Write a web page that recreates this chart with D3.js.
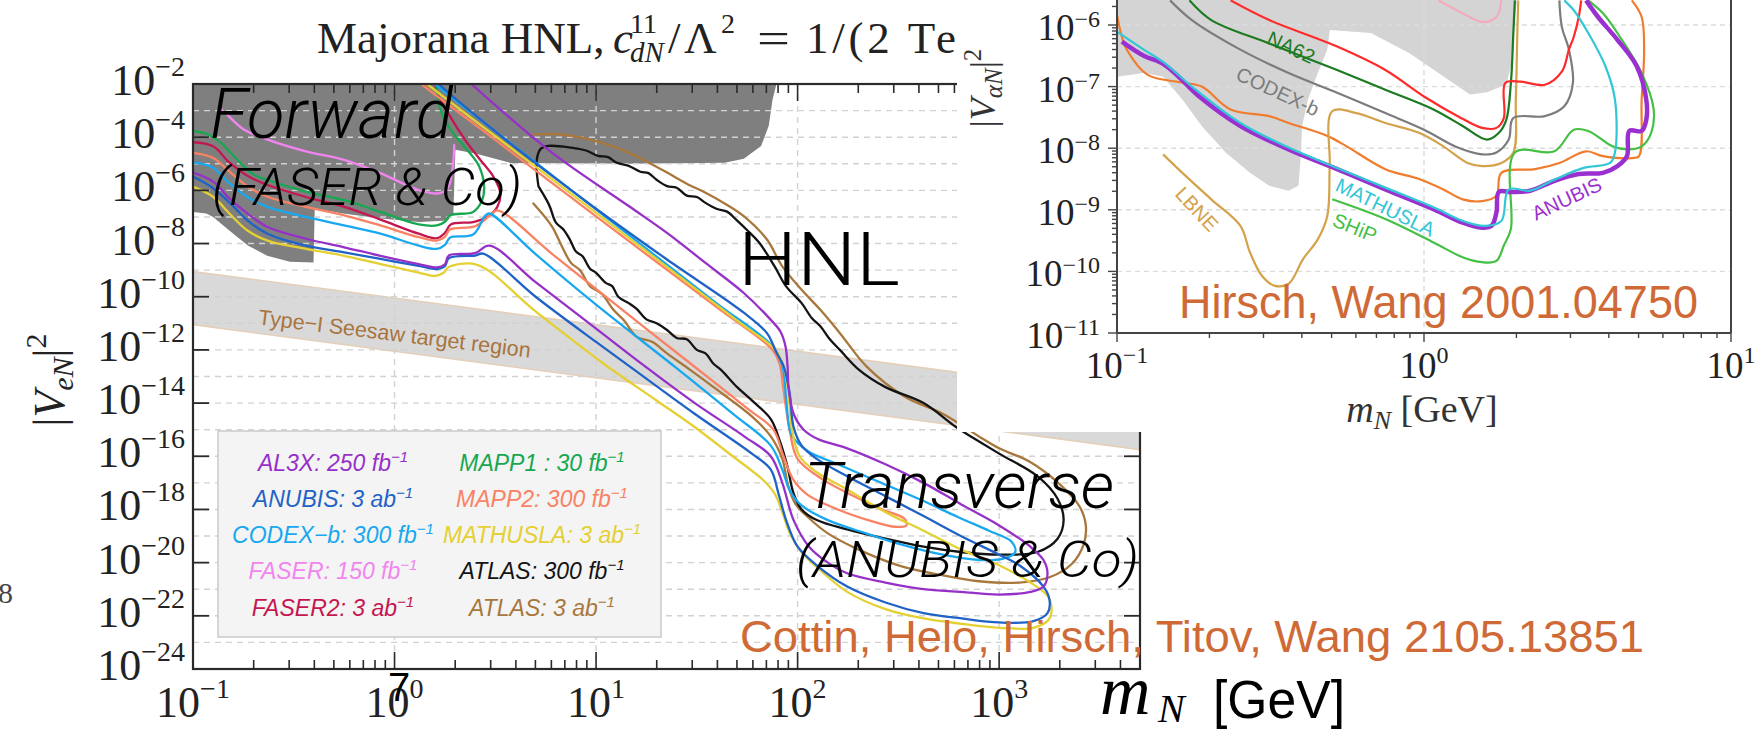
<!DOCTYPE html>
<html>
<head>
<meta charset="utf-8">
<script src="https://d3js.org/d3.v7.min.js"></script>
<style>
html,body{margin:0;padding:0;background:#fff;}
svg{display:block;}
</style>
</head>
<body>
<svg id="chart" width="1756" height="732" xmlns="http://www.w3.org/2000/svg"></svg>
<script>
// ================= DATA =================
// every point is [log10(m_N / GeV), log10(|V|^2)]

// ---- main chart (Cottin, Helo, Hirsch, Titov, Wang) ----
const massTickExpMain = [-1, 0, 1, 2, 3];
const couplingTickExpMain = [-2,-4,-6,-8,-10,-12,-14,-16,-18,-20,-22,-24];

const excludedMain = [[-1,-1.9],[1.9,-1.9],[1.895,-2.0],[1.876,-2.57],[1.857,-3.57],[1.819,-4.33],[1.733,-4.81],[1.638,-4.96],[1.162,-5.0],[0.575,-4.97],[0.406,-4.62],[0.302,-4.47],[0.292,-6.87],[0.264,-7.13],[0.123,-7.19],[-0.066,-7.06],[-0.255,-6.87],[-0.396,-6.68],[-0.402,-8.71],[-0.519,-8.68],[-0.632,-8.46],[-0.726,-8.08],[-0.82,-7.51],[-0.9,-7.0],[-0.934,-6.87],[-1,-6.81]];
const seesawUpper = [[-1,-9.05],[3.7,-13.75]];
const seesawLower = [[-1,-11.05],[3.7,-15.75]];
const seesawLabelAt = [0.0,-11.4];

const al3x = [[-1,-5.33],[-0.9,-5.67],[-0.82,-6.3],[-0.73,-6.87],[-0.63,-7.38],[-0.44,-7.82],[-0.25,-8.14],[-0.07,-8.46],[0.12,-8.77],[0.21,-8.9],[0.25,-8.78],[0.27,-8.45],[0.4,-8.36],[0.47,-8.08],[0.7,-9.45],[1.0,-11.2],[1.24,-12.6],[1.49,-14.0],[1.735,-15.25],[1.867,-16.0],[1.924,-17.0],[1.98,-18.4],[2.057,-19.4],[2.15,-20.0],[2.246,-20.4],[2.436,-20.75],[2.625,-21.0],[2.81,-21.1],[3.0,-21.2],[3.155,-21.1],[3.22,-20.9],[3.24,-20.4],[3.22,-19.9],[3.155,-19.4],[3.0,-18.6],[2.81,-17.8],[2.625,-17.0],[2.436,-16.3],[2.246,-15.7],[2.1,-15.35],[2.03,-15.0],[1.98,-14.4],[1.955,-13.4],[1.95,-12.6],[1.94,-11.87],[1.914,-11.3],[1.867,-10.87],[1.733,-9.86],[1.543,-8.73],[1.352,-7.6],[1.162,-6.59],[0.781,-4.58],[0.381,-2.0],[0.36,-1.85]];
const anubis = [[-1,-5.48],[-0.9,-5.92],[-0.8,-6.6],[-0.73,-7.13],[-0.63,-7.63],[-0.44,-8.08],[-0.25,-8.33],[-0.07,-8.58],[0.12,-8.84],[0.21,-8.96],[0.25,-8.85],[0.27,-8.55],[0.4,-8.45],[0.44,-8.38],[0.7,-10.0],[1.0,-11.7],[1.163,-12.6],[1.489,-14.4],[1.773,-15.9],[1.867,-16.5],[1.905,-17.4],[1.943,-18.4],[2.0,-19.4],[2.095,-20.1],[2.246,-20.9],[2.436,-21.5],[2.625,-21.9],[2.814,-22.1],[3.0,-22.25],[3.17,-22.2],[3.24,-21.9],[3.25,-21.4],[3.22,-20.9],[3.1,-20.1],[3.0,-19.7],[2.81,-19.0],[2.625,-18.25],[2.436,-17.5],[2.246,-16.75],[2.095,-16.1],[2.02,-15.6],[1.98,-14.9],[1.96,-13.6],[1.93,-12.6],[1.895,-12.1],[1.848,-11.37],[1.733,-10.6],[1.352,-8.6],[0.971,-6.53],[0.59,-4.33],[0.219,-2.0],[0.2,-1.85]];
const codexb = [[-1,-4.95],[-0.9,-5.15],[-0.82,-5.73],[-0.73,-6.25],[-0.63,-6.62],[-0.44,-7.0],[-0.25,-7.32],[-0.07,-7.63],[0.12,-8.08],[0.21,-8.2],[0.25,-8.05],[0.275,-7.78],[0.39,-7.66],[0.45,-6.95],[0.47,-6.87],[0.7,-8.4],[1.0,-10.3],[1.39,-12.63],[1.678,-14.4],[1.867,-15.6],[1.924,-16.5],[1.962,-17.3],[2.02,-17.85],[2.15,-18.4],[2.34,-18.9],[2.53,-19.35],[2.72,-19.7],[2.9,-19.9],[3.02,-19.85],[3.08,-19.6],[3.06,-19.2],[2.95,-18.8],[2.8,-18.3],[2.6,-17.6],[2.4,-16.95],[2.2,-16.3],[2.05,-15.8],[1.97,-15.2],[1.945,-14.0],[1.925,-12.63],[1.88,-11.9],[1.6,-10.26],[1.2,-7.9],[0.8,-5.54],[0.2,-2.0],[0.18,-1.85]];
const faser = [[-0.86,-2.95],[-0.84,-3.08],[-0.75,-3.7],[-0.63,-4.09],[-0.44,-4.53],[-0.25,-4.85],[-0.07,-5.35],[0.12,-5.99],[0.22,-6.11],[0.264,-5.92],[0.289,-5.1],[0.296,-4.3]];
const faser2 = [[-1,-4.19],[-0.9,-4.34],[-0.82,-4.95],[-0.73,-5.45],[-0.63,-5.8],[-0.44,-6.25],[-0.25,-6.62],[-0.07,-7.1],[0.12,-7.63],[0.21,-7.8],[0.25,-7.6],[0.279,-7.28],[0.39,-7.19],[0.46,-7.0],[0.51,-6.62],[0.525,-6.11],[0.49,-5.48],[0.425,-4.85],[0.349,-4.09],[0.274,-3.2],[0.217,-2.44],[0.198,-1.85]];
const mapp1 = [[-1,-3.77],[-0.93,-3.88],[-0.86,-4.22],[-0.78,-4.85],[-0.7,-5.4],[-0.63,-5.61],[-0.44,-6.05],[-0.25,-6.37],[-0.07,-6.81],[0.12,-7.28],[0.21,-7.32],[0.25,-7.18],[0.275,-6.94],[0.39,-6.81],[0.43,-6.45],[0.445,-5.9],[0.42,-5.1],[0.36,-4.47],[0.29,-3.84],[0.236,-3.14],[0.215,-2.57],[0.208,-1.85]];
const mapp2 = [[-1,-4.59],[-0.9,-4.78],[-0.82,-5.29],[-0.73,-5.85],[-0.63,-6.24],[-0.44,-6.62],[-0.25,-6.94],[-0.07,-7.32],[0.12,-7.76],[0.21,-7.89],[0.25,-7.75],[0.275,-7.47],[0.4,-7.35],[0.48,-6.9],[0.51,-6.75],[0.8,-8.5],[1.24,-11.15],[1.5,-12.7],[1.75,-14.2],[1.88,-15.0],[1.93,-16.0],[1.98,-16.9],[2.05,-17.45],[2.2,-18.0],[2.35,-18.4],[2.48,-18.65],[2.54,-18.6],[2.53,-18.35],[2.42,-18.0],[2.28,-17.5],[2.12,-16.85],[2.0,-16.1],[1.96,-15.0],[1.93,-13.5],[1.91,-12.5],[1.876,-12.0],[1.6,-10.4],[1.0,-6.98],[0.5,-4.1],[0.133,-2.0],[0.11,-1.85]];
const mathusla = [[-1,-5.86],[-0.9,-6.24],[-0.82,-6.87],[-0.73,-7.51],[-0.63,-7.89],[-0.44,-8.2],[-0.25,-8.46],[-0.07,-8.77],[0.12,-9.09],[0.2,-9.22],[0.245,-9.09],[0.265,-8.9],[0.41,-8.8],[0.7,-10.55],[1.034,-12.5],[1.3,-13.9],[1.489,-14.9],[1.678,-16.0],[1.83,-16.9],[1.886,-17.4],[1.924,-18.1],[1.962,-18.9],[2.02,-19.6],[2.13,-20.4],[2.246,-21.1],[2.436,-21.75],[2.625,-22.1],[2.814,-22.3],[3.0,-22.45],[3.17,-22.45],[3.246,-22.15],[3.26,-21.7],[3.24,-21.25],[3.155,-20.75],[3.0,-20.1],[2.81,-19.5],[2.625,-18.8],[2.436,-18.1],[2.246,-17.25],[2.095,-16.6],[2.01,-16.0],[1.97,-14.9],[1.955,-13.6],[1.93,-12.6],[1.89,-12.0],[1.7,-10.9],[1.2,-8.0],[0.7,-5.11],[0.162,-2.0],[0.14,-1.85]];
const atlas300 = [[0.714,-5.84],[0.705,-4.9],[0.724,-4.45],[0.762,-4.33],[0.876,-4.39],[0.95,-4.5],[1.01,-4.7],[1.06,-4.75],[1.1,-4.95],[1.162,-5.08],[1.22,-5.3],[1.26,-5.35],[1.3,-5.6],[1.352,-5.84],[1.4,-5.9],[1.45,-6.2],[1.5,-6.25],[1.543,-6.47],[1.6,-6.7],[1.65,-6.8],[1.695,-7.1],[1.75,-7.5],[1.81,-7.97],[1.886,-8.86],[1.943,-9.61],[2.02,-10.24],[2.07,-10.8],[2.114,-11.12],[2.16,-11.6],[2.21,-12.0],[2.305,-12.75],[2.436,-13.4],[2.625,-14.0],[2.786,-14.9],[2.87,-15.3],[3.0,-15.9],[3.19,-16.75],[3.29,-17.6],[3.32,-18.4],[3.29,-19.1],[3.19,-19.6],[3.0,-19.7],[2.81,-19.6],[2.625,-19.4],[2.436,-19.1],[2.246,-18.75],[2.095,-18.4],[2.02,-18.0],[1.98,-17.4],[1.95,-16.4],[1.915,-15.5],[1.867,-14.6],[1.773,-13.9],[1.7,-13.4],[1.62,-12.75],[1.58,-12.5],[1.543,-12.13],[1.5,-12.0],[1.45,-11.6],[1.4,-11.55],[1.352,-11.25],[1.3,-11.0],[1.25,-10.85],[1.2,-10.45],[1.162,-10.24],[1.11,-10.0],[1.08,-9.6],[1.048,-9.48],[1.0,-9.1],[0.97,-8.95],[0.933,-8.48],[0.9,-8.3],[0.87,-7.85],[0.838,-7.47],[0.8,-7.2],[0.775,-6.7],[0.762,-6.47],[0.714,-5.84]];
const atlas3000 = [[0.689,-6.49],[0.781,-7.35],[0.83,-8.1],[0.876,-8.73],[0.92,-9.0],[0.971,-9.61],[1.03,-9.9],[1.086,-10.49],[1.14,-10.9],[1.2,-11.5],[1.28,-11.7],[1.352,-12.13],[1.467,-12.75],[1.583,-13.4],[1.773,-14.5],[1.867,-15.25],[1.924,-16.1],[1.953,-17.1],[1.99,-17.8],[2.06,-18.35],[2.15,-18.9],[2.3,-19.5],[2.5,-20.1],[2.7,-20.45],[2.9,-20.7],[3.1,-20.75],[3.25,-20.55],[3.36,-20.05],[3.42,-19.3],[3.43,-18.6],[3.4,-17.9],[3.3,-17.05],[3.15,-16.2],[3.0,-15.7],[2.91,-15.3],[2.72,-14.4],[2.53,-13.75],[2.343,-12.63],[2.21,-11.37],[2.114,-10.5],[2.02,-9.74],[1.924,-8.86],[1.848,-7.85],[1.733,-6.97],[1.64,-6.5],[1.543,-6.09],[1.45,-5.75],[1.352,-5.33],[1.26,-4.95],[1.162,-4.58],[1.0,-4.15],[0.819,-3.89],[0.689,-3.9]];

const legendNames = ["AL3X: 250 fb","ANUBIS: 3 ab","CODEX\u2212b: 300 fb","FASER: 150 fb","FASER2: 3 ab","MAPP1 : 30 fb","MAPP2: 300 fb","MATHUSLA: 3 ab","ATLAS: 300 fb","ATLAS: 3 ab"];
const legendColors = ["#9630c8","#1f63c6","#18a8f0","#f284f0","#c4164f","#16a851","#fa8264","#e4d032","#141414","#a8773c"];

// ---- inset chart (Hirsch, Wang 2001.04750) ----
const massTickExpSide = [-1, 0, 1];
const couplingTickExpSide = [-6,-7,-8,-9,-10,-11];
const excludedSide = [[-1,-5.4],[-1,-6.84],[-0.913,-6.78],[-0.85,-6.84],[-0.787,-7.21],[-0.724,-7.64],[-0.646,-8.07],[-0.567,-8.4],[-0.504,-8.61],[-0.441,-8.69],[-0.409,-8.61],[-0.402,-8.18],[-0.397,-7.64],[-0.378,-7.21],[-0.346,-6.78],[-0.315,-6.4],[-0.307,-6.08],[-0.173,-6.13],[-0.047,-6.46],[0.079,-6.89],[0.15,-7.13],[0.205,-7.09],[0.268,-6.97],[0.283,-6.67],[0.291,-6.13],[0.307,-5.4]];
const sidePink = [[0.047,-5.6],[0.126,-5.81],[0.189,-5.95],[0.236,-5.87],[0.252,-5.6]];
const sideRed = [[-0.63,-5.6],[-0.504,-5.92],[-0.283,-6.35],[-0.126,-6.73],[0,-7.16],[0.11,-7.48],[0.189,-7.67],[0.236,-7.67],[0.26,-7.51],[0.265,-6.94],[0.315,-6.92],[0.394,-6.97],[0.45,-6.75],[0.472,-6.4],[0.488,-6.19],[0.504,-5.87],[0.512,-5.6]];
const sideNA62 = [[-0.764,-5.6],[-0.693,-5.92],[-0.504,-6.3],[-0.283,-6.73],[-0.126,-7.05],[0.031,-7.37],[0.126,-7.64],[0.205,-7.86],[0.244,-7.75],[0.268,-7.54],[0.283,-6.94],[0.291,-6.13],[0.296,-5.6]];
const sideCodexb = [[-0.827,-5.6],[-0.756,-5.92],[-0.598,-6.4],[-0.441,-6.78],[-0.283,-7.1],[-0.126,-7.43],[0,-7.7],[0.11,-7.99],[0.189,-8.1],[0.236,-8.07],[0.276,-7.86],[0.291,-7.51],[0.394,-7.48],[0.457,-7.32],[0.485,-6.94],[0.472,-6.4],[0.449,-6.03],[0.441,-5.6]];
const sideLBNE = [[-0.85,-8.1],[-0.787,-8.4],[-0.693,-8.83],[-0.598,-9.26],[-0.567,-9.69],[-0.528,-10.07],[-0.488,-10.23],[-0.441,-10.2],[-0.394,-9.8],[-0.346,-9.48],[-0.315,-9.1],[-0.307,-8.29],[-0.299,-7.4],[-0.22,-7.43],[-0.126,-7.59],[-0.016,-7.75],[0.063,-7.97],[0.142,-8.24],[0.189,-8.29],[0.252,-8.24],[0.291,-8.07],[0.299,-7.21],[0.304,-6.13],[0.307,-5.6]];
const sideOrange = [[-1,-5.84],[-0.984,-6.19],[-0.967,-6.41],[-0.9,-6.81],[-0.795,-6.93],[-0.724,-7.0],[-0.63,-7.37],[-0.504,-7.48],[-0.441,-7.59],[-0.315,-7.8],[-0.252,-7.97],[-0.126,-8.34],[-0.016,-8.5],[0.063,-8.67],[0.126,-8.83],[0.189,-8.86],[0.236,-8.77],[0.252,-8.4],[0.362,-8.34],[0.441,-8.24],[0.528,-8.05],[0.583,-8.13],[0.677,-8.16],[0.7,-8.13],[0.709,-7.21],[0.717,-6.4],[0.709,-5.87],[0.677,-5.6]];
const sideSHiP = [[-0.299,-8.83],[-0.126,-9.15],[0.031,-9.53],[0.126,-9.77],[0.189,-9.85],[0.236,-9.83],[0.26,-9.58],[0.283,-9.31],[0.296,-8.07],[0.425,-8.05],[0.488,-7.7],[0.535,-7.72],[0.614,-7.97],[0.661,-8.02],[0.709,-7.97],[0.74,-7.75],[0.748,-7.37],[0.709,-6.78],[0.63,-6.13],[0.583,-5.81],[0.535,-5.6]];
const sideANUBIS = [[-0.984,-6.27],[-0.913,-6.5],[-0.85,-6.63],[-0.795,-6.86],[-0.73,-7.17],[-0.598,-7.64],[-0.441,-8.02],[-0.283,-8.34],[-0.126,-8.67],[0.031,-8.99],[0.126,-9.21],[0.189,-9.29],[0.22,-9.26],[0.236,-9.04],[0.244,-8.71],[0.283,-8.71],[0.346,-8.69],[0.425,-8.53],[0.504,-8.42],[0.583,-8.4],[0.63,-8.29],[0.661,-8.13],[0.669,-7.72],[0.709,-7.72],[0.724,-7.54],[0.724,-7.21],[0.693,-6.67],[0.63,-6.24],[0.567,-5.87],[0.528,-5.6]];
const sideMATHUSLA = [[-1,-6.11],[-0.913,-6.4],[-0.85,-6.6],[-0.756,-7.0],[-0.598,-7.59],[-0.441,-7.99],[-0.283,-8.32],[-0.126,-8.64],[0.031,-8.96],[0.126,-9.18],[0.197,-9.26],[0.252,-9.18],[0.276,-8.67],[0.346,-8.69],[0.425,-8.51],[0.52,-8.32],[0.606,-8.24],[0.622,-8.07],[0.622,-7.21],[0.591,-6.67],[0.535,-6.13],[0.488,-5.76],[0.457,-5.6]];
const sideLabelText = ["NA62","CODEX-b","LBNE","MATHUSLA","SHiP","ANUBIS"];
const sideLabelAt = [[-0.433,-6.36],[-0.476,-7.08],[-0.74,-8.99],[-0.126,-8.96],[-0.225,-9.29],[0.465,-8.82]];
const sideLabelAngle = [25,25,47,26,22,-25];
const sideLabelColor = ["#1b7a22","#7c7c7c","#d4a24a","#33c6d6","#45c045","#9a30d0"];

// ================= DRAWING =================
const SERIF = "'Liberation Serif','DejaVu Serif',serif";
const SANS = "'Liberation Sans',Arimo,Arial,sans-serif";
const LIGHT = "Roboto,Lato,'Open Sans','Liberation Sans',sans-serif";
const ORANGE = "#cf6a36";

const svg = d3.select("#chart");
const defs = svg.append("defs");

const xL = d3.scaleLog().domain([0.1, 5000]).range([193, 1140]);
const yL = d3.scaleLog().domain([1e-24, 1e-2]).range([669, 84]);
const xR = d3.scaleLog().domain([0.1, 10]).range([1117, 1731]);
const yR = d3.scaleLog().domain([1e-11, 1e-6]).range([333, 25]);

const toVals = arr => arr.map(([l, w]) => [Math.pow(10, l), Math.pow(10, w)]);
const smoothL = d3.line().x(d => xL(d[0])).y(d => yL(d[1])).curve(d3.curveCatmullRom.alpha(0.5));
const polyL = d3.line().x(d => xL(d[0])).y(d => yL(d[1]));
const smoothR = d3.line().x(d => xR(d[0])).y(d => yR(d[1])).curve(d3.curveCatmullRom.alpha(0.5));
const polyR = d3.line().x(d => xR(d[0])).y(d => yR(d[1]));
const isDecade = t => Math.abs(Math.log10(t) - Math.round(Math.log10(t))) < 1e-9;
const expText = e => (e < 0 ? "\u2212" + Math.abs(e) : String(e));

function addPow(sel, x, y, e, size, expSize, raise, anchor) {
  const t = sel.append("text").attr("x", x).attr("y", y)
    .attr("text-anchor", anchor).attr("font-family", SERIF)
    .attr("font-size", size).attr("fill", "#222");
  t.append("tspan").text("10");
  t.append("tspan").attr("dy", -raise).attr("font-size", expSize).text(expText(e));
  return t;
}

const [lx0, lx1] = xL.range();
const [ly1, ly0] = yL.range(); // ly1 = bottom, ly0 = top
defs.append("clipPath").attr("id", "clipL").append("rect")
  .attr("x", lx0).attr("y", ly0).attr("width", lx1 - lx0).attr("height", ly1 - ly0);
const [rx0, rx1] = xR.range();
defs.append("clipPath").attr("id", "clipR").append("rect")
  .attr("x", rx0).attr("y", -20).attr("width", rx1 - rx0).attr("height", yR.range()[0] + 20);

// ---------- main chart ----------
const gMain = svg.append("g");
const plot = gMain.append("g").attr("clip-path", "url(#clipL)");

plot.append("path").attr("d", polyL(toVals(excludedMain)) + "Z").attr("fill", "#7f7f7f");
plot.append("path")
  .attr("d", polyL(toVals(seesawUpper.concat(seesawLower.slice().reverse()))) + "Z")
  .attr("fill", "#d9d9d9").attr("stroke", "#e4cfb8").attr("stroke-width", 1.6);

const gridY = d3.range(-23, -2);
plot.selectAll(".gy").data(gridY).join("line")
  .attr("x1", lx0).attr("x2", lx1)
  .attr("y1", e => yL(Math.pow(10, e))).attr("y2", e => yL(Math.pow(10, e)))
  .attr("stroke", "#d2d2d2").attr("stroke-width", 1.4).attr("stroke-dasharray", "6,5");
const gridX = [0, 1, 2, 3];
plot.selectAll(".gx").data(gridX).join("line")
  .attr("y1", ly0).attr("y2", ly1)
  .attr("x1", e => xL(Math.pow(10, e))).attr("x2", e => xL(Math.pow(10, e)))
  .attr("stroke", "#d2d2d2").attr("stroke-width", 1.4).attr("stroke-dasharray", "6,5");

const sl = toVals([seesawLabelAt])[0];
plot.append("text").attr("x", xL(sl[0])).attr("y", yL(sl[1]))
  .attr("transform", `rotate(7,${xL(sl[0])},${yL(sl[1])})`)
  .attr("text-anchor", "middle").attr("dominant-baseline", "central")
  .attr("font-family", SANS).attr("font-size", 21.5).attr("fill", "#a8743e")
  .text("Type\u2212I Seesaw target region");

const mainSeries = [
  [atlas3000, legendColors[9]], [atlas300, legendColors[8]],
  [faser, legendColors[3]], [faser2, legendColors[4]], [mapp1, legendColors[5]],
  [mapp2, legendColors[6]], [codexb, legendColors[2]], [mathusla, legendColors[7]],
  [anubis, legendColors[1]], [al3x, legendColors[0]]
];
plot.selectAll(".curve").data(mainSeries).join("path")
  .attr("d", d => smoothL(toVals(d[0])))
  .attr("fill", "none").attr("stroke", d => d[1]).attr("stroke-width", 2.3)
  .attr("stroke-linejoin", "round").attr("stroke-linecap", "round");

// legend
const leg = gMain.append("g");
leg.append("rect").attr("x", 218).attr("y", 431).attr("width", 443).attr("height", 206)
  .attr("fill", "#f4f4f4").attr("stroke", "#cacaca").attr("stroke-width", 1.5);
legendNames.forEach((name, i) => {
  const col = Math.floor(i / 5), row = i % 5;
  const t = leg.append("text").attr("x", col === 0 ? 333 : 542).attr("y", 470.5 + row * 36.3)
    .attr("text-anchor", "middle").attr("font-family", SANS).attr("font-style", "italic")
    .attr("font-size", 23).attr("fill", legendColors[i]);
  t.append("tspan").text(name);
  t.append("tspan").attr("dy", -9).attr("font-size", 15).text("\u22121");
});

// frame and ticks
const ax = gMain.append("g").attr("stroke", "#2a2a2a");
ax.append("rect").attr("x", lx0).attr("y", ly0).attr("width", lx1 - lx0).attr("height", ly1 - ly0)
  .attr("fill", "none").attr("stroke-width", 2.2);
const xt = xL.ticks();
ax.selectAll(".tb").data(xt).join("line")
  .attr("x1", d => xL(d)).attr("x2", d => xL(d))
  .attr("y1", ly1).attr("y2", d => ly1 - (isDecade(d) ? 17 : 9)).attr("stroke-width", 1.6);
ax.selectAll(".tt").data(xt).join("line")
  .attr("x1", d => xL(d)).attr("x2", d => xL(d))
  .attr("y1", ly0).attr("y2", d => ly0 + (isDecade(d) ? 17 : 9)).attr("stroke-width", 1.6);
ax.selectAll(".tl").data(couplingTickExpMain).join("line")
  .attr("x1", lx0).attr("x2", lx0 + 16)
  .attr("y1", e => yL(Math.pow(10, e))).attr("y2", e => yL(Math.pow(10, e))).attr("stroke-width", 1.8);
ax.selectAll(".tr").data(couplingTickExpMain).join("line")
  .attr("x1", lx1).attr("x2", lx1 - 16)
  .attr("y1", e => yL(Math.pow(10, e))).attr("y2", e => yL(Math.pow(10, e))).attr("stroke-width", 1.8);

couplingTickExpMain.forEach(e => addPow(gMain, 185, yL(Math.pow(10, e)) + 11, e, 44, 28, 19, "end"));
massTickExpMain.forEach(e => addPow(gMain, xL(Math.pow(10, e)), 717, e, 44, 28, 19, "middle"));

// title
const ttl = gMain.append("g").attr("font-family", SERIF).attr("fill", "#222");
ttl.append("text").attr("x", 317).attr("y", 53).attr("font-size", 45).text("Majorana HNL,");
ttl.append("text").attr("x", 613).attr("y", 53).attr("font-size", 45).attr("font-style", "italic").text("c");
ttl.append("text").attr("x", 630).attr("y", 33).attr("font-size", 28).text("11");
ttl.append("text").attr("x", 630).attr("y", 62).attr("font-size", 29).attr("font-style", "italic").text("dN");
ttl.append("text").attr("x", 668).attr("y", 53).attr("font-size", 45).text("/");
ttl.append("text").attr("x", 684).attr("y", 53).attr("font-size", 45).text("\u039B");
ttl.append("text").attr("x", 721).attr("y", 33).attr("font-size", 28).text("2");
ttl.append("text").attr("x", 757).attr("y", 53).attr("font-size", 45)
  .attr("textLength", 33).attr("lengthAdjust", "spacingAndGlyphs").text("=");
ttl.append("text").attr("x", 806).attr("y", 53).attr("font-size", 45)
  .attr("textLength", 150).attr("lengthAdjust", "spacing").text("1/(2 Te");

// y axis title |V_eN|^2
const yt = gMain.append("text").attr("x", 64).attr("y", 380)
  .attr("transform", "rotate(-90,64,380)").attr("text-anchor", "middle")
  .attr("font-family", SERIF).attr("font-size", 44).attr("fill", "#222");
yt.append("tspan").text("|");
yt.append("tspan").attr("font-style", "italic").text("V");
yt.append("tspan").attr("font-style", "italic").attr("font-size", 30).attr("dy", 9).text("eN");
yt.append("tspan").attr("dy", -9).text("|");
yt.append("tspan").attr("font-size", 30).attr("dy", -18).text("2");

// big annotations
const ann = gMain.append("g").attr("font-family", LIGHT).attr("font-weight", 300).attr("fill", "#000");
ann.append("text").attr("x", 210).attr("y", 138).attr("font-size", 71).attr("font-style", "italic")
  .attr("textLength", 243).attr("lengthAdjust", "spacingAndGlyphs").text("Forward");
ann.append("text").attr("x", 212).attr("y", 205).attr("font-size", 52).attr("font-style", "italic")
  .attr("textLength", 310).attr("lengthAdjust", "spacingAndGlyphs").text("(FASER & Co)");
ann.append("text").attr("x", 738).attr("y", 285).attr("font-size", 74)
  .attr("textLength", 162).attr("lengthAdjust", "spacingAndGlyphs").text("HNL");

// ---------- inset chart ----------
const gSide = svg.append("g");
gSide.append("rect").attr("x", 957).attr("y", 0).attr("width", 799).attr("height", 432).attr("fill", "#fff");
const sp = gSide.append("g").attr("clip-path", "url(#clipR)");
sp.append("path").attr("d", polyR(toVals(excludedSide)) + "Z").attr("fill", "#d4d4d4");
sp.selectAll(".gy").data([-6, -7, -8, -9, -10]).join("line")
  .attr("x1", rx0).attr("x2", rx1)
  .attr("y1", e => yR(Math.pow(10, e))).attr("y2", e => yR(Math.pow(10, e)))
  .attr("stroke", "#dcdcdc").attr("stroke-width", 1.4).attr("stroke-dasharray", "5,4");
sp.append("line").attr("x1", xR(1)).attr("x2", xR(1)).attr("y1", -20).attr("y2", yR.range()[0])
  .attr("stroke", "#dcdcdc").attr("stroke-width", 1.4).attr("stroke-dasharray", "5,4");

const sideSeries = [
  [sidePink, "#f6a9ba", 2], [sideOrange, "#f07c2c", 2.2], [sideLBNE, "#d4a24a", 2.2],
  [sideCodexb, "#7c7c7c", 2.2], [sideNA62, "#1b7a22", 2.2], [sideRed, "#ff2a2a", 2.2],
  [sideSHiP, "#45c045", 2.2], [sideANUBIS, "#9a30d0", 4.5], [sideMATHUSLA, "#33c6d6", 2.2]
];
sp.selectAll(".sc").data(sideSeries).join("path")
  .attr("d", d => smoothR(toVals(d[0])))
  .attr("fill", "none").attr("stroke", d => d[1]).attr("stroke-width", d => d[2])
  .attr("stroke-linejoin", "round");

sideLabelText.forEach((txt, i) => {
  const p = toVals([sideLabelAt[i]])[0];
  const px = xR(p[0]), py = yR(p[1]);
  gSide.append("text").attr("x", px).attr("y", py)
    .attr("transform", `rotate(${sideLabelAngle[i]},${px},${py})`)
    .attr("text-anchor", "middle").attr("dominant-baseline", "central")
    .attr("font-family", SANS).attr("font-size", 20).attr("fill", sideLabelColor[i]).text(txt);
});

// inset axes
const sa = gSide.append("g").attr("stroke", "#444");
const ry0 = yR.range()[0];
sa.append("line").attr("x1", rx0).attr("x2", rx0).attr("y1", -5).attr("y2", ry0).attr("stroke-width", 2);
sa.append("line").attr("x1", rx1).attr("x2", rx1).attr("y1", -5).attr("y2", ry0).attr("stroke-width", 2);
sa.append("line").attr("x1", rx0).attr("x2", rx1).attr("y1", ry0).attr("y2", ry0).attr("stroke-width", 2);
const sxt = xR.ticks();
sa.selectAll(".sxt").data(sxt).join("line")
  .attr("x1", d => xR(d)).attr("x2", d => xR(d))
  .attr("y1", ry0).attr("y2", d => ry0 + (isDecade(d) ? 9 : 5)).attr("stroke-width", 1.4);
const syt = d3.scaleLog().domain([1e-11, 1e-5]).ticks().filter(t => yR(t) >= 0);
sa.selectAll(".syt").data(syt).join("line")
  .attr("x1", rx0).attr("x2", d => rx0 - (isDecade(d) ? 9 : 5))
  .attr("y1", d => yR(d)).attr("y2", d => yR(d)).attr("stroke-width", 1.4);
couplingTickExpSide.forEach(e => addPow(gSide, 1100, yR(Math.pow(10, e)) + 15, e, 37, 24, 13, "end"));
massTickExpSide.forEach(e => addPow(gSide, xR(Math.pow(10, e)), 378, e, 37, 24, 15, "middle"));

const sxl = gSide.append("text").attr("x", 1422).attr("y", 422).attr("text-anchor", "middle")
  .attr("font-family", SERIF).attr("font-size", 38).attr("fill", "#333");
sxl.append("tspan").attr("font-style", "italic").text("m");
sxl.append("tspan").attr("font-style", "italic").attr("font-size", 26).attr("dy", 7).text("N");
sxl.append("tspan").attr("dy", -7).text(" [GeV]");

const syl = gSide.append("text").attr("x", 995).attr("y", 88)
  .attr("transform", "rotate(-90,995,88)").attr("text-anchor", "middle")
  .attr("font-family", SERIF).attr("font-size", 36).attr("fill", "#333");
syl.append("tspan").text("|");
syl.append("tspan").attr("font-style", "italic").text("V");
syl.append("tspan").attr("font-style", "italic").attr("font-size", 25).attr("dy", 7).text("\u03B1N");
syl.append("tspan").attr("dy", -7).text("|");
syl.append("tspan").attr("font-size", 25).attr("dy", -14).text("2");

gSide.append("text").attr("x", 1179).attr("y", 318).attr("font-family", SANS)
  .attr("font-size", 46).attr("fill", ORANGE)
  .attr("textLength", 519).attr("lengthAdjust", "spacingAndGlyphs").text("Hirsch, Wang 2001.04750");

// ---------- overlays on bottom part ----------
const ov = svg.append("g");
ov.append("text").attr("x", 804).attr("y", 508).attr("font-family", LIGHT).attr("font-weight", 300)
  .attr("font-style", "italic").attr("font-size", 64).attr("fill", "#000")
  .attr("textLength", 310).attr("lengthAdjust", "spacingAndGlyphs").text("Transverse");
ov.append("text").attr("x", 796).attr("y", 577).attr("font-family", LIGHT).attr("font-weight", 300)
  .attr("font-style", "italic").attr("font-size", 49).attr("fill", "#000")
  .attr("textLength", 343).attr("lengthAdjust", "spacingAndGlyphs").text("(ANUBIS & Co)");
ov.append("text").attr("x", 740).attr("y", 652).attr("font-family", SANS)
  .attr("font-size", 45).attr("fill", ORANGE)
  .attr("textLength", 904).attr("lengthAdjust", "spacingAndGlyphs")
  .text("Cottin, Helo, Hirsch, Titov, Wang 2105.13851");

ov.append("text").attr("x", 1100).attr("y", 714).attr("font-family", SERIF)
  .attr("font-style", "italic").attr("font-size", 70).attr("fill", "#000").text("m");
ov.append("text").attr("x", 1158).attr("y", 722).attr("font-family", SERIF)
  .attr("font-style", "italic").attr("font-size", 40).attr("fill", "#000").text("N");
ov.append("text").attr("x", 1213).attr("y", 718).attr("font-family", SANS)
  .attr("font-size", 53).attr("fill", "#000")
  .attr("textLength", 132).attr("lengthAdjust", "spacingAndGlyphs").text("[GeV]");

ov.append("text").attr("x", 388).attr("y", 701).attr("font-family", SANS)
  .attr("font-size", 40).attr("fill", "#000").text("7");
ov.append("text").attr("x", -2).attr("y", 603).attr("font-family", SERIF)
  .attr("font-size", 30).attr("fill", "#444").text("8");
</script>
</body>
</html>
